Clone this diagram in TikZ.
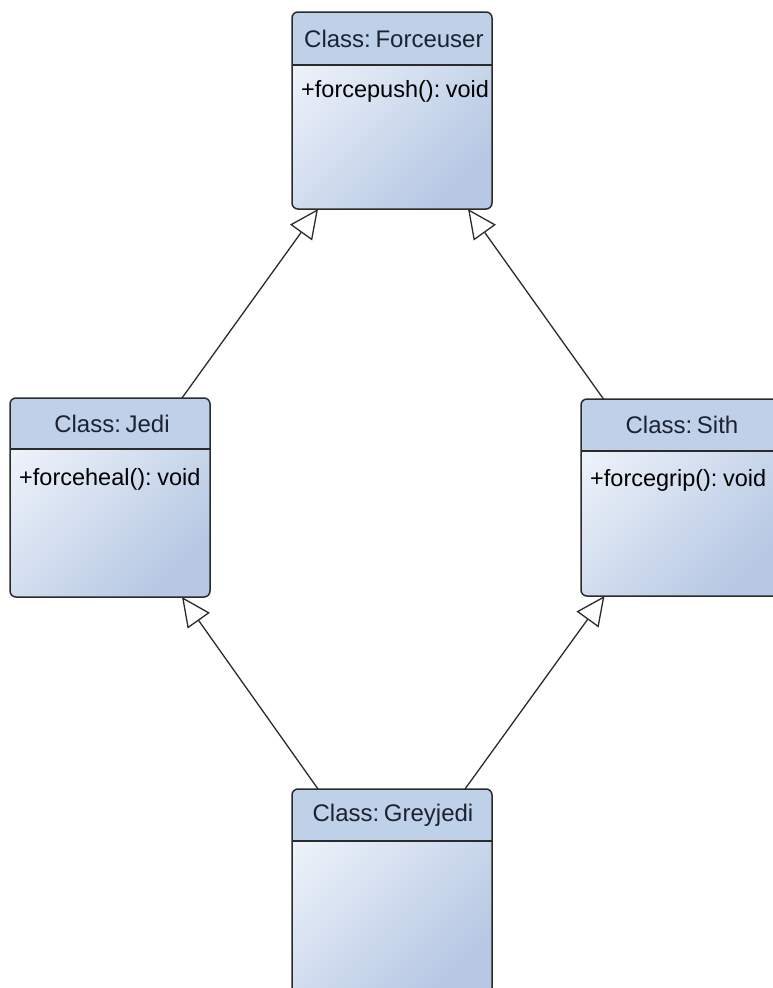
\documentclass[tikz,border=0pt]{standalone}
\usepackage{fontspec}
\setmainfont{Liberation Sans}
\usetikzlibrary{arrows.meta,calc}
\definecolor{hdr}{HTML}{BFD0E9}
\definecolor{bodyA}{HTML}{EDF2FA}
\definecolor{bodyB}{HTML}{B6C8E3}
\definecolor{edge}{HTML}{2B2B2B}
\definecolor{titletext}{HTML}{1C2230}
\begin{document}
\begin{tikzpicture}[x=1pt,y=-1pt,
  umlbox/.style={inner sep=0pt, outer sep=0pt, anchor=north west, rounded corners=6pt,
    top color=bodyA, bottom color=bodyB, shading angle=45},
  outline/.style={draw=edge, line width=1.5pt, rounded corners=6pt},
  sepline/.style={draw=edge, line width=1.5pt},
  title/.style={font=\fontsize{24}{28}\selectfont, text=titletext, inner sep=0pt},
  attr/.style={font=\fontsize{23.5}{28}\selectfont, text=black, anchor=base west, inner sep=0pt},
  gen/.style={draw=edge, line width=1.3pt, -{Triangle[open, length=29pt, width=27pt, fill=white]}}]
\clip (0,0) rectangle (773,988);
\useasboundingbox (0,0) rectangle (773,988);

% Forceuser
\node[umlbox, minimum width=200pt, minimum height=197pt] (fu) at (292,12) {};
\begin{scope}
  \clip[rounded corners=6pt] (fu.north west) rectangle ([xshift=-1.5pt]fu.south east);
  \fill[hdr] (fu.north west) rectangle (492,65);
  \node[title, anchor=west] (fut) at (304,38.5) {Class:\kern-2pt\ Forceuser};
  \node[attr] (fua) at (301,97) {+forcepush():\kern-1pt\ void};
\end{scope}
\draw[outline] (fu.north west) rectangle (fu.south east);
\draw[sepline] (292,65) -- (492,65);

% Jedi
\node[umlbox, minimum width=200pt, minimum height=199pt] (jedi) at (10,398) {};
\begin{scope}
  \clip[rounded corners=6pt] (jedi.north west) rectangle (jedi.south east);
  \fill[hdr] (jedi.north west) rectangle (210,449);
  \node[title] (jedit) at (112,423.5) {Class:\kern-2pt\ Jedi};
  \node[attr] (jedia) at (19,485) {+forceheal():\kern-1pt\ void};
\end{scope}
\draw[outline] (jedi.north west) rectangle (jedi.south east);
\draw[sepline] (10,449) -- (210,449);

% Sith
\node[umlbox, minimum width=201pt, minimum height=197pt] (sith) at (581,399) {};
\begin{scope}
  \clip[rounded corners=6pt] (sith.north west) rectangle (sith.south east);
  \fill[hdr] (sith.north west) rectangle (782,451);
  \node[title] (sitht) at (682,425) {Class:\kern-2pt\ Sith};
  \node[attr] (sitha) at (590,486) {+forcegrip():\kern-1pt\ void};
\end{scope}
\draw[outline] (sith.north west) rectangle (sith.south east);
\draw[sepline] (581,451) -- (782,451);

% Greyjedi
\node[umlbox, minimum width=200pt, minimum height=205pt] (gj) at (292,789) {};
\begin{scope}
  \clip[rounded corners=6pt] (gj.north west) rectangle (gj.south east);
  \fill[hdr] (gj.north west) rectangle (492,841);
  \node[title] (gjt) at (393,815) {Class:\kern-2pt\ Greyjedi};
\end{scope}
\draw[outline] (gj.north west) rectangle (gj.south east);
\draw[sepline] (292,841) -- (492,841);

% generalisations
\draw[gen] ([xshift=72pt]jedi.north) -- ([xshift=-74pt]fu.south);
\draw[gen] ([xshift=-78pt]sith.north) -- ([xshift=76pt]fu.south);
\draw[gen] ([xshift=-74pt]gj.north) -- ([xshift=72pt]jedi.south);
\draw[gen] ([xshift=73pt]gj.north) -- ([xshift=-77pt]sith.south);
\end{tikzpicture}
\end{document}
